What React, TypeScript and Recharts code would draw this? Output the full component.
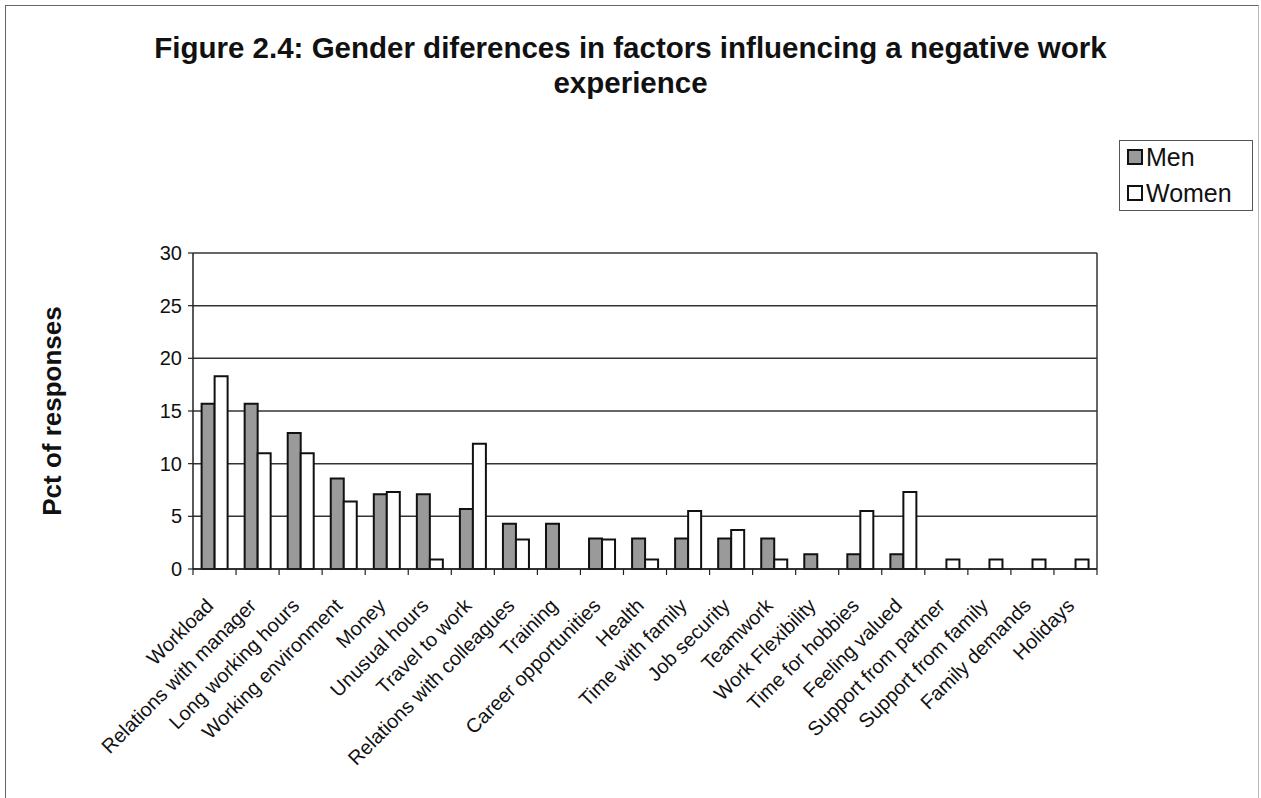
import React from "react";
import {
  BarChart,
  Bar,
  XAxis,
  YAxis,
  CartesianGrid,
} from "recharts";

const FONT = '"Liberation Sans", Arial, Helvetica, sans-serif';

const factors = [
  "Workload",
  "Relations with manager",
  "Long working hours",
  "Working environment",
  "Money",
  "Unusual hours",
  "Travel to work",
  "Relations with colleagues",
  "Training",
  "Career opportunities",
  "Health",
  "Time with family",
  "Job security",
  "Teamwork",
  "Work Flexibility",
  "Time for hobbies",
  "Feeling valued",
  "Support from partner",
  "Support from family",
  "Family demands",
  "Holidays",
];

const men = [
  15.7, 15.7, 12.9, 8.6, 7.1, 7.1, 5.7, 4.3, 4.3, 2.9, 2.9, 2.9, 2.9, 2.9, 1.4,
  1.4, 1.4, 0, 0, 0, 0,
];
const women = [
  18.3, 11.0, 11.0, 6.4, 7.3, 0.9, 11.9, 2.8, 0, 2.8, 0.9, 5.5, 3.7, 0.9, 0,
  5.5, 7.3, 0.9, 0.9, 0.9, 0.9,
];

const yTicks = [0, 5, 10, 15, 20, 25, 30];

const chartData = factors.map((name, i) => ({
  name,
  men: men[i],
  women: women[i],
}));

// rotated category label plus a tick mark at the left edge of the band
function FactorTick(props: any) {
  const { x, y, payload } = props;
  const half = payload?.offset ?? 21.5;
  const isLast = payload?.index === factors.length - 1;
  const ax = x;
  const ay = y + 30;
  return (
    <g>
      <line x1={x - half} y1={y - 8} x2={x - half} y2={y - 2} stroke="#222" strokeWidth={1.2} />
      {isLast && (
        <line x1={x + half} y1={y - 8} x2={x + half} y2={y - 2} stroke="#222" strokeWidth={1.2} />
      )}
      <text
        x={ax}
        y={ay}
        transform={`rotate(-45, ${ax}, ${ay})`}
        textAnchor="end"
        fontSize={20}
        fontFamily={FONT}
        fill="#111"
      >
        {payload.value}
      </text>
    </g>
  );
}

export default function App() {
  return (
    <div
      style={{
        position: "absolute",
        left: 0,
        top: 0,
        width: 1261,
        height: 798,
        background: "#fff",
        fontFamily: FONT,
        overflow: "hidden",
      }}
    >
      <div
        style={{
          position: "absolute",
          left: 5,
          top: 5,
          width: 1252,
          height: 800,
          borderLeft: "1.5px solid #666",
          borderTop: "1.5px solid #666",
          borderRight: "1.5px solid #bbb",
        }}
      />
      <div
        style={{
          position: "absolute",
          left: 0,
          top: 30,
          width: 1261,
          textAlign: "center",
          fontWeight: "bold",
          fontSize: 29.5,
          lineHeight: "35px",
          color: "#111",
        }}
      >
        Figure 2.4: Gender diferences in factors influencing a negative work
        <br />
        experience
      </div>

      <div
        style={{
          position: "absolute",
          left: 1119,
          top: 140,
          width: 134,
          height: 71,
          border: "1px solid #555",
          boxSizing: "border-box",
          fontSize: 25,
          color: "#111",
        }}
      >
        <div style={{ position: "absolute", left: 7, top: 1, display: "flex", alignItems: "center", lineHeight: "30px" }}>
          <span style={{ width: 12, height: 12, background: "#9a9a9a", border: "2px solid #111", marginRight: 3 }} />
          Men
        </div>
        <div style={{ position: "absolute", left: 7, top: 37, display: "flex", alignItems: "center", lineHeight: "30px" }}>
          <span style={{ width: 12, height: 12, background: "#fff", border: "2px solid #111", marginRight: 3 }} />
          Women
        </div>
      </div>

      <div
        style={{
          position: "absolute",
          left: 52,
          top: 411,
          transform: "translate(-50%, -50%) rotate(-90deg)",
          whiteSpace: "nowrap",
          fontWeight: "bold",
          fontSize: 26,
          color: "#111",
        }}
      >
        Pct of responses
      </div>

      <div style={{ position: "absolute", left: 0, top: 0 }}>
        <BarChart
          width={1261}
          height={798}
          data={chartData}
          margin={{ top: 253, right: 164, bottom: 29, left: 133 }}
          barCategoryGap="20%"
          barGap={0}
        >
          <CartesianGrid
            stroke="#333"
            strokeWidth={1.5}
            vertical
            horizontal
            verticalCoordinatesGenerator={({ offset }: any) => [
              offset.left + offset.width,
            ]}
          />
          <XAxis
            dataKey="name"
            interval={0}
            height={200}
            tickLine={false}
            axisLine={{ stroke: "#222", strokeWidth: 1.5 }}
            tick={<FactorTick />}
          />
          <YAxis
            width={60}
            domain={[0, 30]}
            ticks={yTicks}
            interval={0}
            tickSize={5}
            tickMargin={6}
            axisLine={{ stroke: "#222", strokeWidth: 1.5 }}
            tickLine={{ stroke: "#222", strokeWidth: 1.2 }}
            tick={{ fontSize: 20, fontFamily: FONT, fill: "#111" }}
          />
          <Bar
            dataKey="men"
            fill="#9a9a9a"
            stroke="#111"
            strokeWidth={2}
            isAnimationActive={false}
          />
          <Bar
            dataKey="women"
            fill="#fff"
            stroke="#111"
            strokeWidth={2}
            isAnimationActive={false}
          />
        </BarChart>
      </div>
    </div>
  );
}
